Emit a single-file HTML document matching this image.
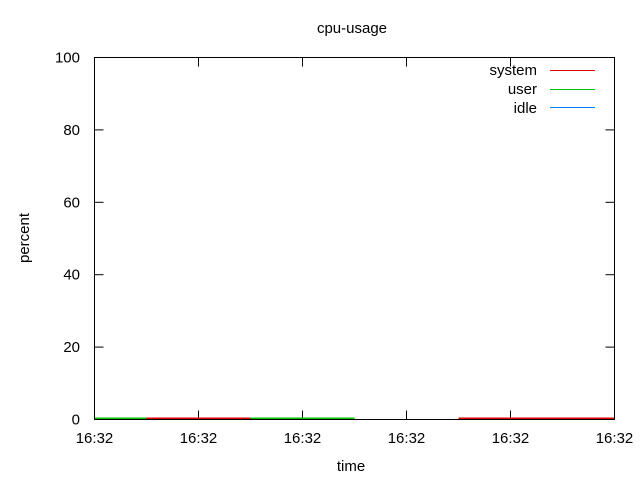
<!DOCTYPE html>
<html><head><meta charset="utf-8"><style>
body{margin:0;background:#fff;}
svg text{font-family:"Liberation Sans",sans-serif;font-size:15px;fill:#000;}
</style></head><body>
<svg id="chart" width="640" height="480">
<text x="352" y="33" text-anchor="middle">cpu-usage</text>
<text x="351" y="471" text-anchor="middle">time</text>
<text transform="translate(29,238) rotate(-90)" text-anchor="middle">percent</text>
<g id="axes"></g>
<g id="series"></g>
<rect x="94.5" y="57.5" width="520" height="362" fill="none" stroke="#000" stroke-width="1"/>
<g>
<text x="537" y="75" text-anchor="end">system</text>
<line x1="550" y1="70.5" x2="595" y2="70.5" stroke="#e00000"/>
<text x="537" y="94" text-anchor="end">user</text>
<line x1="550" y1="89.5" x2="595" y2="89.5" stroke="#00c000"/>
<text x="537" y="113" text-anchor="end">idle</text>
<line x1="550" y1="107.5" x2="595" y2="107.5" stroke="#0080ff"/>
</g>
</svg>
<script>
const xTickLabels = ["16:32","16:32","16:32","16:32","16:32","16:32"];
const yTicks = [0,20,40,60,80,100];
const pointCount = 11;
const systemValues = [null,0,0,null,null,null,null,0,0,0];
const userValues = [0,null,null,0,0,null,null,null,null,null];
const idleValues = [null,null,null,null,null,null,null,null,null,null];

const X0=94.5,X1=614.5,Y0=419.5,Y1=57.5;
const xs=i=>X0+(X1-X0)*i/(pointCount-1);
const ys=v=>Y0-(Y0-Y1)*v/100;
const ns="http://www.w3.org/2000/svg";
const axes=document.getElementById('axes');
function mk(tag,attrs,parent){const e=document.createElementNS(ns,tag);for(const k in attrs)e.setAttribute(k,attrs[k]);parent.appendChild(e);return e;}
yTicks.forEach(v=>{
  const y=ys(v);
  const t1=mk('line',{x1:X0,y1:y,x2:X0+9,y2:y,stroke:'#000'},axes);
  
  
  const t2=mk('line',{x1:X1,y1:y,x2:X1-9,y2:y,stroke:'#000'},axes);
  
  
  const tx=mk('text',{x:80,y:y+5,'text-anchor':'end'},axes);
  tx.textContent=v;
  
  
});
xTickLabels.forEach((lab,i)=>{
  const x=X0+(X1-X0)*i/(xTickLabels.length-1);
  const t1=mk('line',{x1:x,y1:Y0,x2:x,y2:Y0-9,stroke:'#000'},axes);
  
  
  const t2=mk('line',{x1:x,y1:Y1,x2:x,y2:Y1+9,stroke:'#000'},axes);
  
  
  const tx=mk('text',{x:x,y:443,'text-anchor':'middle'},axes);
  tx.textContent=lab;
  
  
});
const sg=document.getElementById('series');
[[idleValues,'#0080ff','idle'],[userValues,'#00c000','user'],[systemValues,'#e00000','system']].forEach(([vals,col,name])=>{
  vals.forEach((v,i)=>{
    if(v===null)return;
    const l=mk('line',{x1:xs(i),y1:ys(v)-1,x2:xs(i+1),y2:ys(v)-1,stroke:col,'stroke-width':2},sg);
    
    
  });
});
</script>
</body></html>
